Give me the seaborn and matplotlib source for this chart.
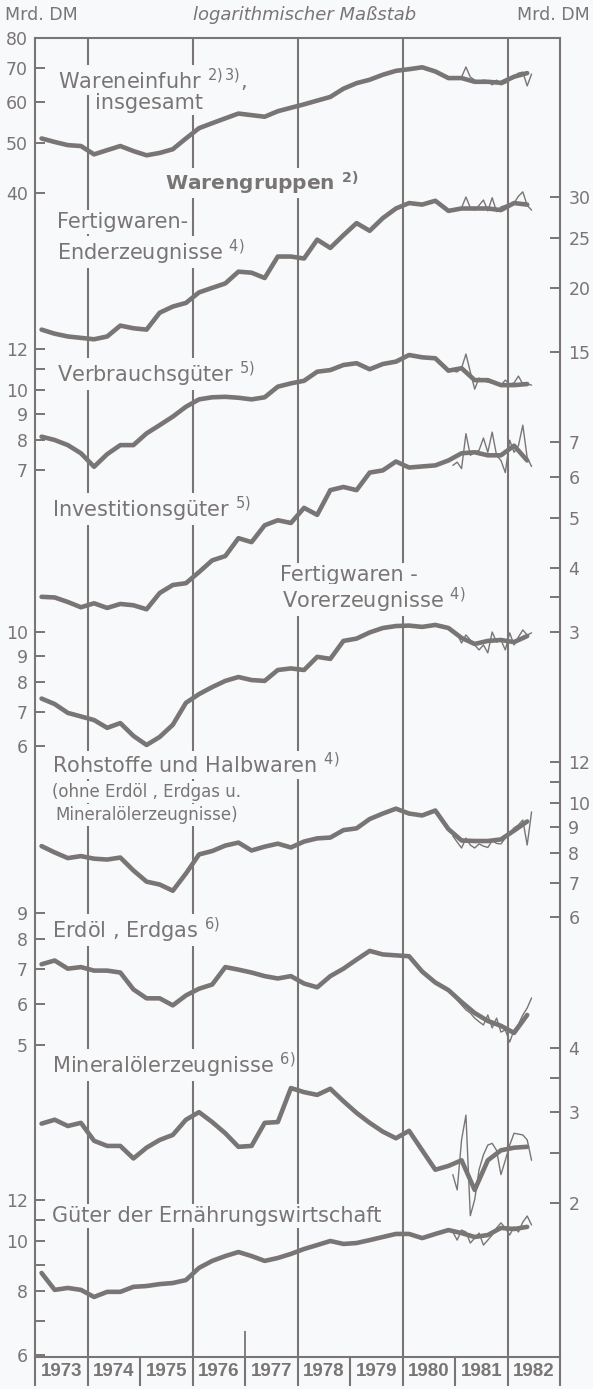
import numpy as np
import pandas as pd
import matplotlib
matplotlib.use('Agg')
import matplotlib.pyplot as plt
import matplotlib.transforms as mtransforms
from matplotlib import font_manager
from matplotlib.ticker import FixedLocator, FixedFormatter, NullLocator
import seaborn as sns

BG = '#f7f9fb'
INK = '#7a7575'

sns.set_style('white', {'axes.facecolor': BG, 'figure.facecolor': BG})
plt.rcParams['font.family'] = ['DejaVu Sans']
plt.rcParams['mathtext.fontset'] = 'dejavusans'


def has_font(name):
    try:
        font_manager.findfont(name, fallback_to_default=False)
        return True
    except ValueError:
        return False


# schmale Schrift fuer die Jahreszahlen
if has_font('Liberation Sans Narrow'):
    NARROW, YEAR_SIZE = 'Liberation Sans Narrow', 16.5
elif has_font('Liberation Sans'):
    NARROW, YEAR_SIZE = 'Liberation Sans', 13.5
else:
    NARROW, YEAR_SIZE = 'DejaVu Sans', 11.5

# Quartalswerte 1973 Q1 - 1982 Q2, Monatswerte Dez 1980 - Jun 1982 (Mrd. DM)
quarters = pd.period_range('1973Q1', '1982Q2', freq='Q')
months = pd.period_range('1980-12', '1982-06', freq='M')
xq = np.asarray(quarters.year + (quarters.quarter - 0.5) / 4)
xm = np.asarray(months.year + (months.month - 0.5) / 12)

ware_q = [51.1, 50.3, 49.6, 49.4, 47.6, 48.5, 49.4, 48.3, 47.4, 47.9, 48.7, 51.1, 53.5,
          54.7, 55.9, 57.1, 56.7, 56.3, 57.7, 58.6, 59.5, 60.5, 61.5, 63.8, 65.4, 66.4,
          67.9, 69.1, 69.6, 70.2, 68.9, 66.9, 66.9, 65.8, 65.8, 65.5, 67.3, 68.4]
ware_m = [66.9, 66.9, 67.2, 70.3, 67.2, 66.3, 65.8, 66.3, 66.1, 64.9, 66.3, 64.9, 65.4,
          66.3, 67.5, 68.4, 68.7, 64.6, 68.1]

ender_q = [16.6, 16.3, 16.1, 16.0, 15.9, 16.1, 16.9, 16.7, 16.6, 17.9, 18.4, 18.7, 19.6,
           20.0, 20.4, 21.5, 21.4, 20.9, 23.0, 23.0, 22.8, 24.8, 23.9, 25.3, 26.7, 25.8,
           27.3, 28.5, 29.2, 29.0, 29.5, 28.2, 28.5, 28.5, 28.5, 28.3, 29.2, 29.0]
ender_m = [28.2, 28.3, 28.6, 30.0, 28.6, 28.3, 28.9, 29.6, 28.2, 29.9, 28.1, 28.7, 28.9,
           29.1, 29.2, 30.1, 30.7, 28.9, 28.3]

verb_q = [8.12, 8.00, 7.82, 7.54, 7.10, 7.51, 7.82, 7.82, 8.24, 8.55, 8.88, 9.28, 9.59,
          9.68, 9.70, 9.66, 9.59, 9.68, 10.15, 10.30, 10.42, 10.85, 10.93, 11.18, 11.27,
          10.97, 11.23, 11.35, 11.69, 11.57, 11.52, 10.90, 11.02, 10.45, 10.45, 10.22,
          10.22, 10.27]
verb_m = [10.88, 10.84, 11.03, 11.74, 10.84, 10.04, 10.55, 10.41, 10.36, 10.32, 10.27,
          10.22, 10.45, 10.27, 10.32, 10.64, 10.27, 10.27, 10.22]

inv_q = [3.51, 3.50, 3.43, 3.35, 3.41, 3.34, 3.40, 3.38, 3.32, 3.57, 3.70, 3.73, 3.92,
         4.13, 4.21, 4.56, 4.48, 4.83, 4.94, 4.88, 5.22, 5.06, 5.65, 5.73, 5.65, 6.11,
         6.17, 6.42, 6.25, 6.28, 6.31, 6.45, 6.66, 6.69, 6.60, 6.60, 6.89, 6.45]
inv_m = [6.31, 6.40, 6.22, 7.27, 6.60, 6.69, 6.75, 7.13, 6.69, 7.32, 6.60, 6.45, 6.11,
         7.06, 6.69, 6.89, 7.55, 6.53, 6.28]

vor_q = [7.43, 7.25, 6.97, 6.86, 6.75, 6.52, 6.66, 6.29, 6.04, 6.26, 6.61, 7.29, 7.58,
         7.82, 8.04, 8.18, 8.07, 8.04, 8.44, 8.50, 8.44, 8.95, 8.87, 9.61, 9.71, 9.98,
         10.18, 10.27, 10.29, 10.23, 10.32, 10.18, 9.74, 9.48, 9.61, 9.65, 9.56, 9.82]
vor_m = [10.09, 9.91, 9.52, 9.87, 9.65, 9.44, 9.23, 9.44, 9.11, 10.0, 9.56, 9.65, 9.23,
         9.96, 9.44, 9.78, 10.09, 9.87, 9.96]

roh_q = [8.25, 8.02, 7.82, 7.89, 7.80, 7.77, 7.84, 7.40, 7.04, 6.95, 6.76, 7.30, 7.95,
         8.07, 8.27, 8.38, 8.09, 8.23, 8.34, 8.20, 8.42, 8.54, 8.57, 8.86, 8.93, 9.31,
         9.54, 9.75, 9.54, 9.46, 9.67, 8.90, 8.46, 8.44, 8.44, 8.50, 8.84, 9.21]
roh_m = [8.63, 8.40, 8.18, 8.55, 8.29, 8.18, 8.33, 8.25, 8.20, 8.45, 8.35, 8.33, 8.55,
         8.75, 8.95, 9.07, 9.27, 8.29, 9.61]

erd_q = [7.16, 7.28, 7.02, 7.07, 6.96, 6.96, 6.90, 6.40, 6.15, 6.15, 5.96, 6.23, 6.42,
         6.54, 7.07, 6.99, 6.90, 6.79, 6.72, 6.79, 6.57, 6.46, 6.79, 7.02, 7.31, 7.60,
         7.48, 7.45, 7.42, 6.93, 6.60, 6.38, 6.05, 5.76, 5.56, 5.44, 5.27, 5.71]
erd_m = [6.24, 6.10, 5.97, 5.84, 5.76, 5.63, 5.54, 5.46, 5.71, 5.39, 5.63, 5.29, 5.34,
         5.06, 5.34, 5.48, 5.71, 5.89, 6.16]

min_q = [2.85, 2.90, 2.82, 2.86, 2.64, 2.58, 2.58, 2.44, 2.56, 2.65, 2.71, 2.90, 3.00,
         2.87, 2.73, 2.57, 2.58, 2.86, 2.87, 3.34, 3.28, 3.24, 3.33, 3.15, 2.99, 2.86,
         2.75, 2.67, 2.76, 2.53, 2.32, 2.36, 2.42, 2.12, 2.42, 2.53, 2.56, 2.57]
min_m = [2.27, 2.12, 2.65, 2.96, 1.89, 2.03, 2.32, 2.48, 2.59, 2.61, 2.53, 2.27, 2.42,
         2.59, 2.73, 2.72, 2.71, 2.65, 2.42]

ern_q = [8.67, 8.04, 8.11, 8.04, 7.79, 7.97, 7.97, 8.15, 8.18, 8.25, 8.29, 8.40, 8.87,
         9.15, 9.35, 9.52, 9.35, 9.15, 9.27, 9.44, 9.65, 9.82, 10.0, 9.87, 9.91, 10.04,
         10.18, 10.32, 10.32, 10.13, 10.32, 10.50, 10.36, 10.18, 10.27, 10.60, 10.55, 10.65]
ern_m = [10.41, 10.04, 10.50, 10.41, 9.91, 10.13, 10.36, 9.82, 10.04, 10.27, 10.60,
         10.84, 10.60, 10.27, 10.65, 10.41, 10.88, 11.18, 10.74]

years = list(range(1973, 1983))

# layout in pixels (figure 593 x 1389)
W, H = 593, 1389
X0, X1, Y_TOP, Y_BOT = 35, 560, 38, 1357
DEC = 516.0  # pixels per decade, same for every scale

fig = plt.figure(figsize=(W / 100, H / 100), dpi=100)
ax = fig.add_axes([X0 / W, (H - Y_BOT) / H, (X1 - X0) / W, (Y_BOT - Y_TOP) / H])
ax.set_facecolor(BG)
ax.set_xlim(1973, 1983)
ax.set_ylim(0, 1)
ax.set_yticks([])
for s in ax.spines.values():
    s.set_color(INK)
    s.set_linewidth(1.5)

blend = mtransforms.blended_transform_factory(ax.transData, ax.transAxes)
for yr in [1974, 1976, 1978, 1980, 1982]:
    ax.axvline(yr, color=INK, lw=1.5, zorder=0.5)
ax.vlines(range(1973, 1984), -29 / 1319, 0, transform=blend, color=INK, lw=1.5, clip_on=False)
ax.vlines([1977], 0, 26 / 1319, transform=blend, color=INK, lw=1.3)

ax.set_xticks(range(1974, 1983))
ax.set_xticks(np.arange(1973.25, 1983, 0.25), minor=True)
ax.tick_params(axis='x', which='major', direction='in', length=13.5, width=1.3,
               color=INK, labelbottom=False)
ax.tick_params(axis='x', which='minor', direction='in', length=9.5, width=1.3, color=INK)
for yr in years:
    ax.text(yr + 0.5, -15 / 1319, str(yr), transform=blend, ha='center', va='center',
            fontsize=YEAR_SIZE, fontweight='bold', family=NARROW, color=INK)


def draw_series(xa, qa, xb, mb, v_ref, y_ref, side, ticks, labels):
    a = ax.twinx()
    a.set_yscale('log')
    sns.lineplot(x=xa, y=qa, ax=a, color=INK, linewidth=3.3, estimator=None,
                 sort=False, solid_capstyle='round', solid_joinstyle='round')
    sns.lineplot(x=xb, y=mb, ax=a, color=INK, linewidth=1.0, estimator=None, sort=False)
    lo = np.log10(v_ref) - (Y_BOT - y_ref) / DEC
    hi = np.log10(v_ref) + (y_ref - Y_TOP) / DEC
    a.set_ylim(10 ** lo, 10 ** hi)
    a.set_xlabel('')
    a.set_ylabel('')
    a.yaxis.set_major_locator(FixedLocator(ticks))
    a.yaxis.set_major_formatter(FixedFormatter(labels))
    a.yaxis.set_minor_locator(NullLocator())
    a.yaxis.set_ticks_position(side)
    a.yaxis.set_label_position(side)
    for s in a.spines.values():
        s.set_visible(False)
    a.tick_params(axis='y', direction='in', length=7, width=1.4, color=INK,
                  labelcolor=INK, labelsize=12.5, pad=5 if side == 'left' else 6)
    return a


draw_series(xq, ware_q, xm, ware_m, 80, 38, 'left', [40, 50, 60, 70, 80],
            ['40', '50', '60', '70', '80'])
draw_series(xq, ender_q, xm, ender_m, 30, 197, 'right', [15, 20, 25, 30],
            ['15', '20', '25', '30'])
draw_series(xq, verb_q, xm, verb_m, 10, 390, 'left', [7, 8, 9, 10, 11, 12],
            ['7', '8', '9', '10', '', '12'])
draw_series(xq, inv_q, xm, inv_m, 3, 632, 'right', [3, 3.5, 4, 5, 6, 7],
            ['3', '', '4', '5', '6', '7'])
draw_series(xq, vor_q, xm, vor_m, 10, 632, 'left', [6, 7, 8, 9, 10],
            ['6', '7', '8', '9', '10'])
draw_series(xq, roh_q, xm, roh_m, 10, 803, 'right', [6, 7, 8, 9, 10, 11, 12],
            ['6', '7', '8', '9', '10', '', '12'])
draw_series(xq, erd_q, xm, erd_m, 9, 913, 'left', [5, 6, 7, 8, 9],
            ['5', '6', '7', '8', '9'])
draw_series(xq, min_q, xm, min_m, 2, 1203, 'right', [2, 2.5, 3, 3.5, 4],
            ['2', '', '3', '', '4'])
draw_series(xq, ern_q, xm, ern_m, 10, 1241, 'left', [6, 7, 8, 9, 10, 11, 12],
            ['6', '', '8', '', '10', '', '12'])
ax.set_xlim(1973, 1983)


def label(x, y, s, size=15, **kw):
    fig.text(x / W, 1 - y / H, s, fontsize=size, color=INK, ha='left', va='center',
             bbox=dict(facecolor=BG, edgecolor='none', pad=1.2), **kw)


fig.text(5 / W, 1 - 15 / H, 'Mrd. DM', fontsize=12.5, color=INK, va='center')
fig.text(305 / W, 1 - 15 / H, 'logarithmischer Maßstab', fontsize=13, color=INK,
         va='center', ha='center', style='italic')
fig.text(590 / W, 1 - 15 / H, 'Mrd. DM', fontsize=12.5, color=INK, va='center', ha='right')

label(58, 80, r'Wareneinfuhr $^{2)\,3)}$,')
label(95, 103, 'insgesamt')
label(165, 183, r'Warengruppen $^{\mathregular{2)}}$', size=14.5, fontweight='bold')
label(57, 222, 'Fertigwaren-')
label(57, 252, r'Enderzeugnisse $^{4)}$')
label(57, 374, r'Verbrauchsgüter $^{5)}$')
label(52, 509, r'Investitionsgüter $^{5)}$')
label(280, 575, 'Fertigwaren -')
label(282, 600, r'Vorerzeugnisse $^{4)}$')
label(52, 765, r'Rohstoffe und Halbwaren $^{4)}$')
label(52, 792, '(ohne Erdöl , Erdgas u.', size=12)
label(55, 815, 'Mineralölerzeugnisse)', size=12)
label(52, 930, r'Erdöl , Erdgas $^{6)}$')
label(52, 1065, r'Mineralölerzeugnisse $^{6)}$')
label(52, 1216, 'Güter der Ernährungswirtschaft')

fig.savefig('out.png', dpi=100, facecolor=BG)
